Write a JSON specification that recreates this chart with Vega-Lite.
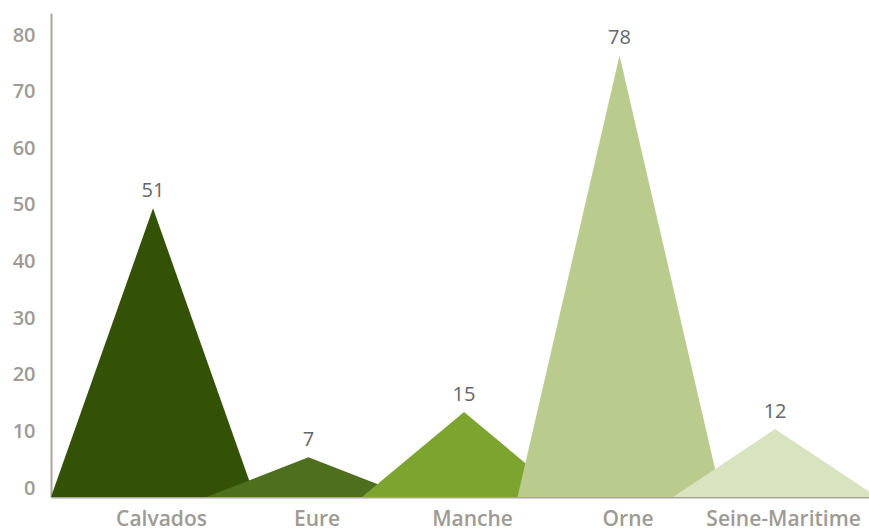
{
  "$schema": "https://vega.github.io/schema/vega-lite/v6.json",
  "width": 818,
  "height": 484,
  "autosize": {"type": "none"},
  "padding": {"left": 51, "top": 13, "right": 0, "bottom": 32},
  "background": "white",
  "config": {"view": {"stroke": null}, "font": "Open Sans"},
  "data": {"values": [
    {"dept": "Calvados", "x": -0.656, "y": 0},
    {"dept": "Calvados", "x": 0, "y": 51},
    {"dept": "Calvados", "x": 0.656, "y": 0},
    {"dept": "Eure", "x": 0.344, "y": 0},
    {"dept": "Eure", "x": 1, "y": 7},
    {"dept": "Eure", "x": 1.656, "y": 0},
    {"dept": "Manche", "x": 1.344, "y": 0},
    {"dept": "Manche", "x": 2, "y": 15},
    {"dept": "Manche", "x": 2.656, "y": 0},
    {"dept": "Orne", "x": 2.344, "y": 0},
    {"dept": "Orne", "x": 3, "y": 78},
    {"dept": "Orne", "x": 3.656, "y": 0},
    {"dept": "Seine-Maritime", "x": 3.344, "y": 0},
    {"dept": "Seine-Maritime", "x": 4, "y": 12},
    {"dept": "Seine-Maritime", "x": 4.656, "y": 0}
  ]},
  "layer": [
    {
      "mark": {"type": "area", "clip": true, "interpolate": "linear"},
      "encoding": {
        "x": {
          "field": "x", "type": "quantitative",
          "scale": {"domain": [-0.656, 4.604], "nice": false, "zero": false},
          "axis": {
            "title": null, "values": [0, 1, 2, 3, 4],
            "labelExpr": "['Calvados','Eure','Manche','Orne','Seine-Maritime'][datum.value]",
            "grid": false, "ticks": false, "domainColor": "#aaa69f", "domainWidth": 2,
            "labelFont": "Open Sans", "labelFontWeight": 600, "labelFontSize": 21,
            "labelColor": "#9e9a94", "labelPadding": 11, "labelOffset": 8, "labelFlush": false
          }
        },
        "y": {
          "field": "y", "type": "quantitative", "stack": null,
          "scale": {"domain": [0, 85.5], "nice": false},
          "axis": {
            "title": null, "values": [0, 10, 20, 30, 40, 50, 60, 70, 80],
            "grid": false, "ticks": false, "domainColor": "#aaa69f", "domainWidth": 2,
            "labelFont": "Open Sans", "labelFontWeight": 600, "labelFontSize": 20,
            "labelColor": "#9e9a94", "labelPadding": 16, "labelOffset": -9
          }
        },
        "color": {
          "field": "dept", "type": "nominal", "legend": null,
          "scale": {
            "domain": ["Calvados", "Eure", "Manche", "Orne", "Seine-Maritime"],
            "range": ["#345205", "#4e6f1d", "#7ea430", "#b9cc8e", "#d8e3c0"]
          }
        },
        "order": {"field": "dept"}
      }
    },
    {
      "transform": [{"filter": "datum.y > 0"}],
      "mark": {"type": "text", "dy": -17, "fontSize": 20, "color": "#666666", "font": "Open Sans", "baseline": "middle"},
      "encoding": {
        "x": {"field": "x", "type": "quantitative"},
        "y": {"field": "y", "type": "quantitative"},
        "text": {"field": "y", "type": "quantitative"}
      }
    }
  ]
}
